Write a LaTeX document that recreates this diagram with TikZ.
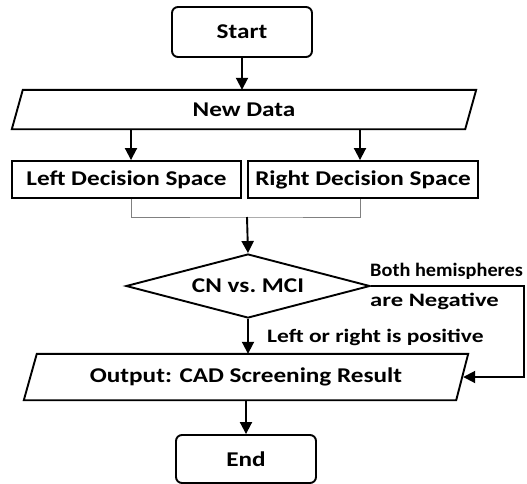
\documentclass[tikz,border=0pt]{standalone}
\usepackage{fontspec}
\setmainfont{Carlito}[FakeStretch=1.2]
\usetikzlibrary{arrows.meta,shapes.geometric,calc}
\begin{document}
\begin{tikzpicture}[x=1pt,y=-1pt,
  every node/.style={font=\fontsize{21}{24}\selectfont\bfseries},
  box/.style={draw, line width=1.9pt, inner sep=0pt},
  txt/.style={inner sep=0pt},
  ln/.style={line width=1.9pt},
  arr/.style={line width=1.9pt, -{Triangle[length=12pt,width=12pt]}},
  lbl/.style={font=\fontsize{19}{22}\selectfont\bfseries, anchor=west, inner sep=0pt}]
\useasboundingbox (0,0) rectangle (527,483);
% nodes
\node[box, rounded corners=6pt, minimum width=140pt, minimum height=50pt] (start) at (242,32) {Start};
\node[txt, minimum width=464pt, minimum height=39pt] (nd) at (244,109.5) {New Data};
\draw[ln, line join=miter] ($(nd.north west)+(11,0)$) -- (nd.north east) -- ($(nd.south east)+(-11,0)$) -- (nd.south west) -- cycle;
\node[box, minimum width=229pt, minimum height=37pt] (lb) at (126.5,179.5) {Left Decision Space};
\node[box, minimum width=230pt, minimum height=37pt] (rb) at (363,179.5) {Right Decision Space};
\coordinate (mj) at (247,217);
\node[box, diamond, aspect=3.8, minimum width=244pt, minimum height=64pt] (dm) at (248,286) {CN vs.\ MCI};
\node[lbl] (l1) at (370,271) {\scalebox{0.89}[1]{Both hemispheres}};
\node[lbl] (l2) at (370,301) {\scalebox{1.08}[1]{are Negative}};
\node[lbl] (l3) at (267,337) {\scalebox{1.03}[1]{Left or right is positive}};
\node[txt, minimum width=444pt, minimum height=46pt] (op) at (246,377) {Output: CAD Screening Result};
\draw[ln, line join=miter] ($(op.north west)+(13,0)$) -- (op.north east) -- ($(op.south east)+(-12,0)$) -- (op.south west) -- cycle;
\node[box, rounded corners=6pt, minimum width=140pt, minimum height=48pt] (end) at (246,459) {End};
\coordinate (fb) at (524,286);
% connectors
\draw[arr] (start.south) -- (start.south |- nd.north);
\draw[arr] ([xshift=4.5pt]lb.north |- nd.south) -- ([xshift=4.5pt]lb.north);
\draw[arr] ([xshift=-3pt]rb.north |- nd.south) -- ([xshift=-3pt]rb.north);
\draw[gray, line width=0.8pt] ([xshift=4.5pt]lb.south) |- (mj) -| ([xshift=-3pt]rb.south);
\draw[arr] (mj) -- (dm.north);
\draw[arr] (dm.south) -- (dm.south |- op.north);
\draw[arr] (dm.east) -- (fb) |- ([xshift=-5pt]op.east);
\draw[arr] (op.south -| end.north) -- (end.north);
\end{tikzpicture}
\end{document}
